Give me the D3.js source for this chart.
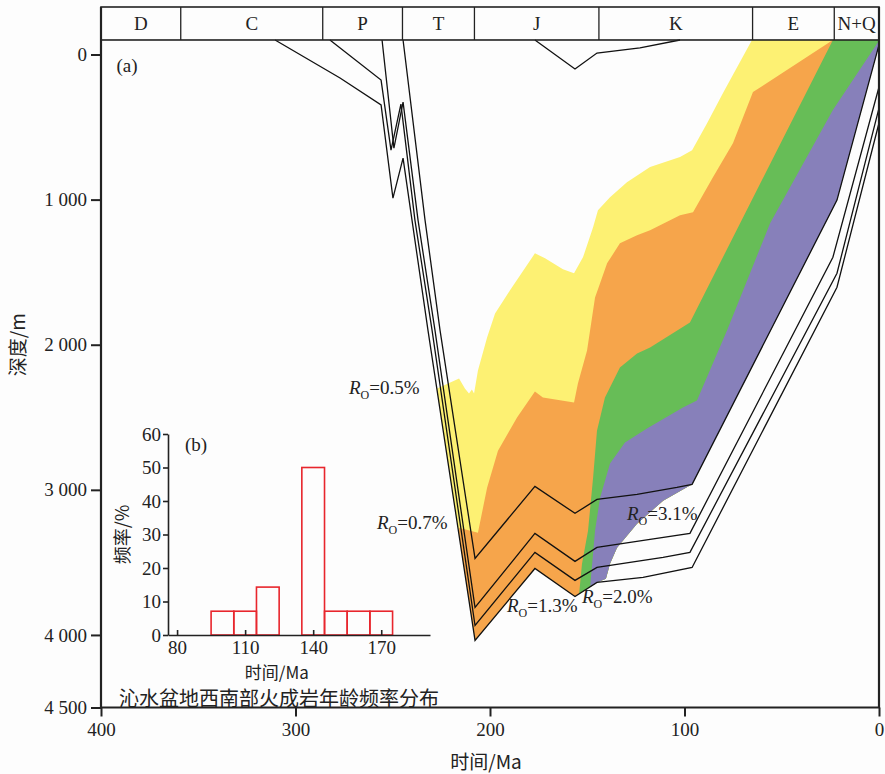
<!DOCTYPE html>
<html>
<head>
<meta charset="utf-8">
<script src="https://cdnjs.cloudflare.com/ajax/libs/d3/7.8.5/d3.min.js"></script>
<style>
  body { margin: 0; background: #fdfdfd; }
  svg { display: block; }
  text { font-family: "Liberation Serif", "Times New Roman", serif; fill: #222; }
  .cjk { font-family: "Noto Sans CJK SC", sans-serif; }
</style>
</head>
<body>
<svg id="chart" width="885" height="774"></svg>
<script>
// geologic periods, boundaries in Ma
var periodNames = ['D', 'C', 'P', 'T', 'J', 'K', 'E', 'N+Q'];
var periodBounds = [400, 359, 286, 245, 208, 144, 65, 23, 0];

var xTicks = [400, 300, 200, 100, 0];
var yTicks = [0, 1000, 2000, 3000, 4000, 4500];
var yTickLabels = ['0', '1 000', '2 000', '3 000', '4 000', '4 500'];

// burial history curves: [time Ma, depth m]
var burial1 = [[244.7, -100], [233.4, 1141], [225.7, 1900], [207.7, 3473], [176.9, 2976], [156.3, 3162],
  [145, 3066], [124.4, 3031], [103.9, 2983], [96.1, 2962], [21.6, 1003], [0, -66]];
var burial2 = [[255.5, -100], [249.4, 645], [244.7, 328], [237, 1141], [228.3, 1900], [207.7, 3811],
  [176.9, 3300], [156.3, 3493], [145, 3397], [117.7, 3342], [97.2, 3300], [23.7, 1397], [0, 224]];
var burial3 = [[282.3, -100], [256, 176], [250.9, 659], [245.8, 342], [238.6, 1141], [229.8, 1900],
  [207.7, 3935], [176.9, 3431], [156.3, 3624], [145, 3535], [111, 3466], [97.2, 3431], [21.6, 1507], [0, 369]];
var burial4 = [[310.5, -100], [277.1, 162], [256, 348], [249.9, 990], [244.7, 714], [240.1, 1141],
  [231.9, 1900], [207.7, 4038], [176.9, 3542], [156.3, 3735], [145, 3638], [121.3, 3604], [96.1, 3535],
  [21.6, 1604], [0, 472]];
var burialJ = [[176.9, -100], [156.3, 100], [145, -10], [122.9, -45], [102.3, -100]];

// Ro isograds (upper edge of each maturity zone)
var ro05 = [[227.2, 2302], [215.9, 2233], [212.9, 2302], [210.8, 2336], [209.3, 2309], [208.2, 2336],
  [206.2, 2178], [201.5, 1950], [197.4, 1784], [189.7, 1625], [176.9, 1370], [171.7, 1404], [162.5, 1480],
  [156.8, 1508], [152.2, 1398], [147, 1191], [144.5, 1073], [138.3, 983], [129.6, 880], [117.7, 776],
  [102.3, 707], [96.1, 659], [88.4, 473], [80.2, 266], [65.3, -100]];
var ro07 = [[215.9, 3261], [206.2, 3296], [201.5, 2985], [195.9, 2730], [186.1, 2502], [176.9, 2322],
  [172.8, 2364], [156.8, 2398], [154.8, 2267], [150.1, 2039], [146, 1674], [143.4, 1577], [139.8, 1439],
  [133.2, 1301], [124.4, 1246], [117.7, 1211], [102.3, 1108], [95.6, 1087], [85.3, 845], [75.1, 611],
  [64.8, 259], [23.7, -100]];
var ro13 = [[154.2, 3717], [152.7, 3510], [149.6, 3282], [147, 2916], [145, 2592], [140.9, 2364],
  [133.2, 2157], [124.4, 2060], [117.7, 2019], [97.2, 1846], [23.7, -100]];
var ro20 = [[148.6, 3682], [146, 3282], [143.4, 3054], [138.3, 2819], [130.6, 2674], [119.3, 2578],
  [100.8, 2433], [93.6, 2385], [78.1, 1901], [56, 1163], [23.7, 383], [0, -95]];
var ro31 = [[140.4, 3613], [138.3, 3510], [134.7, 3399], [124.4, 3233], [111, 3075]];
var roNames = ['0.5%', '0.7%', '1.3%', '2.0%', '3.1%'];

// inset (b): igneous rock ages
var ageEdges = [95, 105, 115, 125, 135, 145, 155, 165, 175];
var ageFreq = [7.1, 7.1, 14.3, 0, 50, 7.1, 7.1, 7.1];
var ageTicks = [80, 110, 140, 170];
var freqTicks = [0, 10, 20, 30, 40, 50, 60];

var svg = d3.select('#chart');

var x = d3.scaleLinear().domain([400, 0]).range([101, 879]);
var y = d3.scaleLinear().domain([0, 4500]).range([54.5, 707.5]);
var plotTop = y(-100);

var line = d3.line()
  .x(function (d) { return x(d[0]); })
  .y(function (d) { return y(d[1]); });

// clip: basin envelope (deepest horizon, Ro 3.1% and youngest horizon)
var envelope = burial4.slice(0, 11).concat(ro31, burial1.slice(9), [[0, -100]]);
svg.append('clipPath').attr('id', 'basin')
  .append('path').attr('d', line(envelope) + 'Z');

var zones = [[ro05, '#fdf173'], [ro07, '#f6a54b'], [ro13, '#67bd57'], [ro20, '#8780ba']];
svg.append('g').attr('clip-path', 'url(#basin)')
  .selectAll('path')
  .data(zones)
  .join('path')
  .attr('fill', function (d) { return d[1]; })
  .attr('d', function (d) {
    var c = d[0];
    var pts = [[c[0][0], 5000]].concat(c, [[c[c.length - 1][0], -130], [-10, -130], [-10, 5000]]);
    return line(pts) + 'Z';
  });

// burial lines
svg.append('g')
  .selectAll('path')
  .data([burial1, burial2, burial3, burial4, burialJ])
  .join('path')
  .attr('d', line)
  .attr('fill', 'none')
  .attr('stroke', '#111')
  .attr('stroke-width', 1.3)
  .attr('stroke-linejoin', 'miter');

// header with periods
var header = svg.append('g');
header.append('rect')
  .attr('x', x(400)).attr('y', 7)
  .attr('width', x(0) - x(400)).attr('height', plotTop - 7)
  .attr('fill', 'none').attr('stroke', '#222').attr('stroke-width', 1.6);
header.selectAll('line')
  .data(periodBounds.slice(1, -1))
  .join('line')
  .attr('x1', function (d) { return x(d); }).attr('x2', function (d) { return x(d); })
  .attr('y1', 7).attr('y2', plotTop)
  .attr('stroke', '#222').attr('stroke-width', 1.3);
header.selectAll('text')
  .data(periodNames)
  .join('text')
  .attr('x', function (d, i) { return (x(periodBounds[i]) + x(periodBounds[i + 1])) / 2; })
  .attr('y', 30)
  .attr('text-anchor', 'middle')
  .attr('font-size', 19)
  .text(function (d) { return d; });

// axes
var yAxis = svg.append('g')
  .attr('transform', 'translate(' + x(400) + ',0)')
  .call(d3.axisLeft(y).tickValues(yTicks).tickSize(10).tickPadding(4)
    .tickFormat(function (d, i) { return yTickLabels[i]; }));
var xAxis = svg.append('g')
  .attr('transform', 'translate(0,' + y(4500) + ')')
  .call(d3.axisBottom(x).tickValues(xTicks).tickSize(9).tickPadding(6));
[yAxis, xAxis].forEach(function (a) {
  a.select('.domain').remove();
  a.attr('font-family', null).attr('font-size', 19).attr('color', '#222');
  a.selectAll('line').attr('stroke-width', 2);
});

// frame
svg.append('path')
  .attr('d', 'M' + x(400) + ',7V' + y(4500) + 'H' + x(0) + 'V7')
  .attr('fill', 'none').attr('stroke', '#222').attr('stroke-width', 2.2);

svg.append('text').attr('class', 'cjk')
  .attr('transform', 'translate(25,' + y(2000) + ') rotate(-90)')
  .attr('text-anchor', 'middle').attr('font-size', 19)
  .text('深度/m');
svg.append('text').attr('class', 'cjk')
  .attr('x', 486).attr('y', 769)
  .attr('text-anchor', 'middle').attr('font-size', 19)
  .text('时间/Ma');

svg.append('text').attr('x', x(392)).attr('y', y(120)).attr('font-size', 19).text('(a)');

// Ro labels, anchored in time/depth
var roPos = [[272.5, 2340], [258.1, 3270], [191.3, 3842], [152.7, 3780], [129.6, 3208]];
var roText = svg.append('g').selectAll('text')
  .data(roNames)
  .join('text')
  .attr('x', function (d, i) { return x(roPos[i][0]); })
  .attr('y', function (d, i) { return y(roPos[i][1]); })
  .attr('font-size', 19);
roText.append('tspan').attr('font-style', 'italic').text('R');
roText.append('tspan').attr('font-size', 12).attr('dy', 5).text('O');
roText.append('tspan').attr('dy', -5).text(function (d) { return '=' + d; });

// inset (b)
var xb = d3.scaleLinear().domain([76, 191.5]).range([168, 430]);
var yb = d3.scaleLinear().domain([0, 60]).range([635, 434]);

svg.append('g')
  .selectAll('rect')
  .data(ageFreq.map(function (f, i) { return { x0: ageEdges[i], x1: ageEdges[i + 1], f: f }; })
    .filter(function (d) { return d.f > 0; }))
  .join('rect')
  .attr('x', function (d) { return xb(d.x0); })
  .attr('width', function (d) { return xb(d.x1) - xb(d.x0); })
  .attr('y', function (d) { return yb(d.f); })
  .attr('height', function (d) { return yb(0) - yb(d.f); })
  .attr('fill', 'none')
  .attr('stroke', '#e8262d')
  .attr('stroke-width', 1.6);

var ybAxis = svg.append('g')
  .attr('transform', 'translate(' + xb(76) + ',0)')
  .call(d3.axisLeft(yb).tickValues(freqTicks).tickSize(5).tickPadding(2).tickSizeOuter(0));
var xbAxis = svg.append('g')
  .attr('transform', 'translate(0,' + yb(0) + ')')
  .call(d3.axisBottom(xb).tickValues(ageTicks).tickSize(-5).tickPadding(6).tickSizeOuter(0));
[ybAxis, xbAxis].forEach(function (a) {
  a.attr('font-family', null).attr('font-size', 19).attr('color', '#222');
  a.selectAll('line, path').attr('stroke-width', 1.6);
});

svg.append('text').attr('x', 185).attr('y', yb(55)).attr('font-size', 19).text('(b)');
svg.append('text').attr('class', 'cjk')
  .attr('transform', 'translate(129,' + yb(30) + ') rotate(-90)')
  .attr('text-anchor', 'middle').attr('font-size', 18)
  .text('频率/%');
svg.append('text').attr('class', 'cjk')
  .attr('x', xb(124)).attr('y', 679)
  .attr('text-anchor', 'middle').attr('font-size', 17)
  .text('时间/Ma');
svg.append('text').attr('class', 'cjk')
  .attr('x', 279).attr('y', 706)
  .attr('text-anchor', 'middle').attr('font-size', 20)
  .text('沁水盆地西南部火成岩年龄频率分布');
</script>
</body>
</html>
